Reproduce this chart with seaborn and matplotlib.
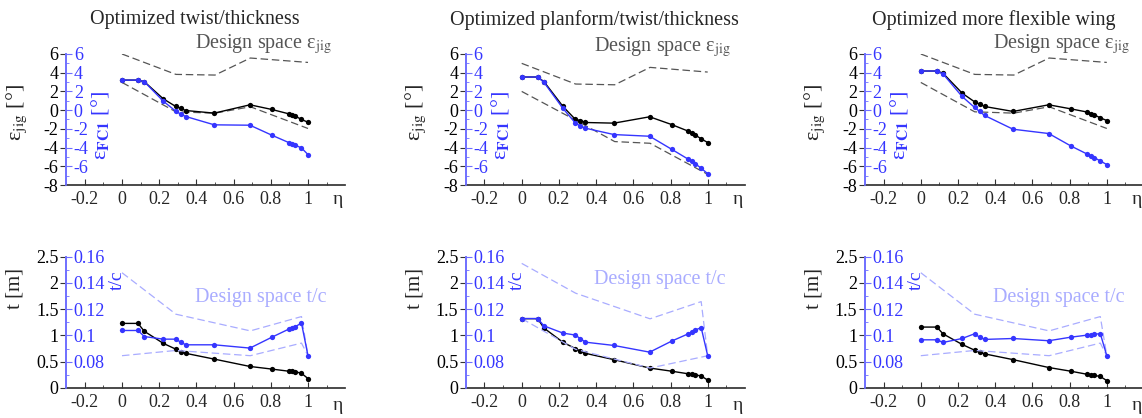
import matplotlib
matplotlib.use("Agg")
import matplotlib.pyplot as plt
import seaborn as sns
import pandas as pd
from matplotlib.ticker import FixedLocator, FuncFormatter
from matplotlib import transforms

# ---------------- data ----------------
eta = [0.0, 0.086, 0.12, 0.222, 0.289, 0.316, 0.343, 0.496, 0.688, 0.806,
       0.896, 0.915, 0.932, 0.965, 1.0]

titles = ["Optimized twist/thickness",
          "Optimized planform/twist/thickness",
          "Optimized more flexible wing"]

eps_jig_1 = [3.21, 3.21, 3.04, 1.21, 0.39, 0.18, -0.04, -0.32, 0.57, 0.07, -0.39, -0.50, -0.64, -1.00, -1.29]
eps_fc1_1 = [3.21, 3.21, 3.04, 0.96, -0.11, -0.43, -0.68, -1.57, -1.61, -2.68, -3.46, -3.57, -3.75, -4.04, -4.75]
eps_jig_2 = [3.54, 3.54, 3.04, 0.39, -1.00, -1.11, -1.32, -1.39, -0.71, -1.54, -2.25, -2.43, -2.64, -3.07, -3.46]
eps_fc1_2 = [3.54, 3.54, 2.96, 0.18, -1.39, -1.71, -1.93, -2.61, -2.79, -4.18, -5.25, -5.46, -5.71, -6.21, -6.79]
eps_jig_3 = [4.18, 4.18, 3.93, 1.82, 0.89, 0.64, 0.39, -0.14, 0.57, 0.14, -0.21, -0.36, -0.50, -0.82, -1.11]
eps_fc1_3 = [4.18, 4.18, 3.86, 1.46, 0.29, -0.14, -0.57, -2.04, -2.50, -3.82, -4.71, -4.93, -5.07, -5.43, -5.82]

eps_ds_eta = [0.0, 0.29, 0.5, 0.69, 1.0]
eps_ds_up_1 = [6.0, 3.82, 3.75, 5.57, 5.10]
eps_ds_lo_1 = [2.96, -0.18, -0.32, 0.36, -1.96]
eps_ds_up_2 = [5.0, 2.79, 2.71, 4.57, 4.07]
eps_ds_lo_2 = [2.0, -1.07, -3.36, -3.54, -6.86]
eps_ds_up_3 = [6.0, 3.82, 3.75, 5.57, 5.10]
eps_ds_lo_3 = [2.96, -0.18, -0.32, 0.36, -1.96]

thick_1 = [1.23, 1.23, 1.08, 0.85, 0.74, 0.69, 0.66, 0.55, 0.41, 0.36, 0.32, 0.32, 0.31, 0.28, 0.18]
tc_1 = [0.1038, 0.1038, 0.0992, 0.0972, 0.0972, 0.0949, 0.0929, 0.0929, 0.0904, 0.0987, 0.1048, 0.1058, 0.1068, 0.1094, 0.0846]
thick_2 = [1.32, 1.32, 1.14, 0.87, 0.75, 0.70, 0.66, 0.54, 0.38, 0.32, 0.27, 0.27, 0.25, 0.23, 0.15]
tc_2 = [0.1129, 0.1129, 0.1073, 0.1018, 0.1003, 0.0975, 0.0949, 0.0924, 0.0873, 0.0957, 0.1013, 0.1025, 0.1041, 0.1060, 0.0846]
thick_3 = [1.16, 1.16, 1.03, 0.83, 0.72, 0.68, 0.65, 0.54, 0.39, 0.32, 0.26, 0.25, 0.24, 0.22, 0.14]
tc_3 = [0.0967, 0.0967, 0.0947, 0.0977, 0.1013, 0.0987, 0.0970, 0.0977, 0.0960, 0.0987, 0.1003, 0.1005, 0.1008, 0.1015, 0.0846]

tc_ds_eta = [0.0, 0.29, 0.69, 0.965, 1.0]
tc_ds_up_1 = [0.1478, 0.1162, 0.1035, 0.1144, 0.0846]
tc_ds_lo_1 = [0.0846, 0.0886, 0.0846, 0.0942, 0.0846]
tc_ds_up_2 = [0.1549, 0.1322, 0.1127, 0.1258, 0.0846]
tc_ds_lo_2 = [0.1129, 0.0895, 0.0752, 0.0835, 0.0846]
tc_ds_up_3 = [0.1478, 0.1162, 0.1035, 0.1144, 0.0846]
tc_ds_lo_3 = [0.0846, 0.0886, 0.0846, 0.0942, 0.0846]

x_ticks = [-0.2, 0, 0.2, 0.4, 0.6, 0.8, 1.0]
x_minor = [-0.1, 0.1, 0.3, 0.5, 0.7, 0.9, 1.1]
eps_ticks = [-8, -6, -4, -2, 0, 2, 4, 6]
eps_fc_ticks = [-6, -4, -2, 0, 2, 4, 6]
eps_fc_minor = [-7, -5, -3, -1, 1, 3, 5]
t_ticks = [0, 0.5, 1.0, 1.5, 2.0, 2.5]
tc_ticks = [0.08, 0.10, 0.12, 0.14, 0.16]
tc_minor = [0.07, 0.09, 0.11, 0.13, 0.15]

# ---------------- style ----------------
sns.set_theme(style="ticks")
plt.rcParams["font.family"] = ["Liberation Serif", "DejaVu Serif"]
plt.rcParams["mathtext.fontset"] = "stix"
plt.rcParams["axes.unicode_minus"] = False

BLUE = "#3535ff"
BLUE_SPINE = "#7070ff"
LBLUE = "#a9acff"
GRAY = "#555555"
FS = 13

fig = plt.figure(figsize=(11.42, 4.18), dpi=100)
W, H = 1142.0, 418.0
lefts = [66.2, 465.9, 865.0]
width = 279.0
top_rows = (54.0, 185.0)
bot_rows = (256.7, 388.0)

fmt = FuncFormatter(lambda v, p: "%g" % round(v, 4))


def make_axes(left, rows):
    y0, y1 = rows
    ax = fig.add_axes([left / W, 1 - y1 / H, width / W, (y1 - y0) / H])
    ax2 = ax.twinx()
    ax.set_xlim(-0.3, 1.2)
    for s in ["top", "right"]:
        ax.spines[s].set_visible(False)
    ax.spines["bottom"].set_color("#333333")
    ax.spines["left"].set_color(BLUE_SPINE)
    for s in ["top", "left", "bottom"]:
        ax2.spines[s].set_visible(False)
    ax2.spines["right"].set_position(("axes", 0))
    ax2.spines["right"].set_color(BLUE_SPINE)
    ax.xaxis.set_major_locator(FixedLocator(x_ticks))
    ax.xaxis.set_minor_locator(FixedLocator(x_minor))
    ax.xaxis.set_major_formatter(fmt)
    ax.tick_params(axis="x", which="major", direction="in", length=4, width=0.8,
                   color="#333333", labelsize=FS, pad=4)
    ax.tick_params(axis="x", which="minor", direction="in", length=2.5, width=0.6,
                   color="#333333")
    ax.tick_params(axis="y", which="major", direction="out", length=4, width=0.8,
                   color="#333333", labelsize=FS, pad=1.5, labelcolor="black")
    ax2.tick_params(axis="y", which="major", direction="out", length=4, width=0.8,
                    color=BLUE_SPINE, labelsize=FS, pad=1.5, labelcolor=BLUE)
    ax2.tick_params(axis="y", which="minor", direction="out", length=2.5, width=0.6,
                    color=BLUE_SPINE)
    ax.yaxis.set_major_formatter(fmt)
    ax2.yaxis.set_major_formatter(fmt)
    ax.text(0.975, -0.11 if rows == top_rows else -0.13, "η", transform=ax.transAxes,
            ha="center", va="center", fontsize=FS + 1)
    return ax, ax2


def line(ax, x, y, color, dashed=False):
    df = pd.DataFrame({"x": x, "y": y})
    if dashed:
        sns.lineplot(data=df, x="x", y="y", ax=ax, color=color, linewidth=0.9,
                     linestyle=(0, (6, 3)), sort=False, estimator=None)
    else:
        sns.lineplot(data=df, x="x", y="y", ax=ax, color=color, linewidth=1.0,
                     marker="o", markersize=3.8, markeredgewidth=0,
                     sort=False, estimator=None)
    ax.set_xlabel("")
    ax.set_ylabel("")


eps_sets = [(eps_jig_1, eps_fc1_1, eps_ds_up_1, eps_ds_lo_1, 1.076),
            (eps_jig_2, eps_fc1_2, eps_ds_up_2, eps_ds_lo_2, 1.053),
            (eps_jig_3, eps_fc1_3, eps_ds_up_3, eps_ds_lo_3, 1.076)]
t_sets = [(thick_1, tc_1, tc_ds_up_1, tc_ds_lo_1, 1.72),
          (thick_2, tc_2, tc_ds_up_2, tc_ds_lo_2, 2.06),
          (thick_3, tc_3, tc_ds_up_3, tc_ds_lo_3, 1.72)]

for i in range(3):
    # ---------- top: twist ----------
    ax, ax2 = make_axes(lefts[i], top_rows)
    jig, fc1, up, lo, ty = eps_sets[i]
    line(ax, eps_ds_eta, up, GRAY, dashed=True)
    line(ax, eps_ds_eta, lo, GRAY, dashed=True)
    line(ax, eta, jig, "black")
    line(ax2, eta, fc1, BLUE)
    ax.set_ylim(-8, 6)
    ax2.set_ylim(-8, 6)
    ax.yaxis.set_major_locator(FixedLocator(eps_ticks))
    ax2.yaxis.set_major_locator(FixedLocator(eps_fc_ticks))
    ax2.yaxis.set_minor_locator(FixedLocator(eps_fc_minor))
    ax.set_xlim(-0.3, 1.2)
    ax.text(-0.179, 0.55, r"ε$_{\mathrm{jig}}$ [°]", transform=ax.transAxes,
            rotation=90, ha="center", va="center", fontsize=FS + 3)
    ax.text(0.122, 0.45, r"ε$_{\mathbf{FC1}}$ [°]", transform=ax.transAxes,
            rotation=90, ha="center", va="center", fontsize=FS + 3, color=BLUE)
    trans = transforms.blended_transform_factory(ax.transData, ax.transAxes)
    ax.text(0.39, ty, r"Design space ε$_{\mathrm{jig}}$", transform=trans,
            ha="left", va="center", fontsize=FS + 1.5, color=GRAY, clip_on=False)
    ax.text(0.39, 1.26, titles[i], transform=trans, ha="center", va="center",
            fontsize=FS + 1.5, clip_on=False)

    # ---------- bottom: thickness ----------
    bx, bx2 = make_axes(lefts[i], bot_rows)
    th, tc, tup, tlo, tty = t_sets[i]
    line(bx, eta, th, "black")
    line(bx2, tc_ds_eta, tup, LBLUE, dashed=True)
    line(bx2, tc_ds_eta, tlo, LBLUE, dashed=True)
    line(bx2, eta, tc, BLUE)
    bx.set_ylim(0, 2.5)
    bx2.set_ylim(0.06, 0.16)
    bx.yaxis.set_major_locator(FixedLocator(t_ticks))
    bx2.yaxis.set_major_locator(FixedLocator(tc_ticks))
    bx2.yaxis.set_minor_locator(FixedLocator(tc_minor))
    bx.set_xlim(-0.3, 1.2)
    bx.text(-0.183, 0.76, "t [m]", transform=bx.transAxes,
            rotation=90, ha="center", va="center", fontsize=FS + 2)
    bx.text(0.183, 0.82, "t/c", transform=bx.transAxes,
            rotation=90, ha="center", va="center", fontsize=FS + 1, color=BLUE)
    btrans = transforms.blended_transform_factory(bx.transData, bx.transData)
    bx.text(0.39, tty, "Design space t/c", transform=btrans,
            ha="left", va="center", fontsize=FS + 1.5, color=LBLUE, clip_on=False)

fig.savefig("out.png", dpi=100)
